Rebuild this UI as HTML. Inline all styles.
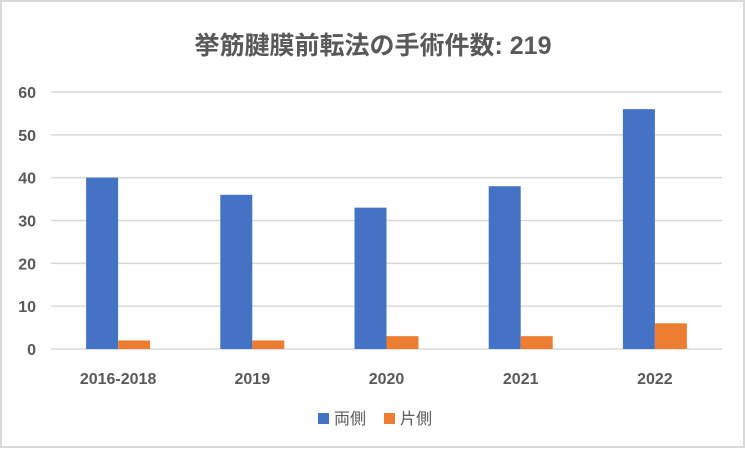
<!DOCTYPE html>
<html><head><meta charset="utf-8"><style>
body{margin:0;background:#fff;}
svg{display:block;font-family:"Liberation Sans","Noto Sans CJK JP",sans-serif;}
</style></head><body>
<svg id="c" width="746" height="450" viewBox="0 0 746 450">
<rect x="1" y="1" width="743" height="446" fill="#fff" stroke="#d9d9d9" stroke-width="2"/>
<text x="373" y="54" text-anchor="middle" font-size="25" font-weight="bold" fill="#595959">挙筋腱膜前転法の手術件数: 219</text>
<g id="grid"></g><g id="bars"></g><g id="labels"></g>
<g>
<rect x="318" y="413" width="11" height="11" fill="#4472c4"/>
<text x="334" y="424" font-size="16" fill="#595959">両側</text>
<rect x="384" y="413" width="11" height="11" fill="#ed7d31"/>
<text x="400" y="424" font-size="16" fill="#595959">片側</text>
</g>
</svg>
<script>
const categories=["2016-2018","2019","2020","2021","2022"];
const bilateral=[40,36,33,38,56];
const unilateral=[2,2,3,3,6];
const yTicks=[0,10,20,30,40,50,60];
const NS="http://www.w3.org/2000/svg";
const L=51,R=722,Y0=349,Y60=92;
const y=v=>Y0-(v/60)*(Y0-Y60);
const cw=(R-L)/categories.length;
const cx=i=>L+cw*(i+0.5);
const bw=32;
function mk(t,a,p){const e=document.createElementNS(NS,t);for(const k in a)e.setAttribute(k,a[k]);p.appendChild(e);return e;}
const g=document.getElementById('grid'),b=document.getElementById('bars'),lb=document.getElementById('labels');
yTicks.forEach(v=>{
 const l=mk('line',{x1:L,x2:R,y1:y(v),y2:y(v),stroke:'#d9d9d9','stroke-width':1.5},g);
 
 
 const t=mk('text',{x:36,y:y(v)+6,'text-anchor':'end','font-size':16,'font-weight':'bold',fill:'#595959'},lb);
 t.textContent=v;
 
 
});
categories.forEach((c,i)=>{
 const r1=mk('rect',{x:cx(i)-bw,y:y(bilateral[i]),width:bw,height:Y0-y(bilateral[i]),fill:'#4472c4'},b);
 
 
 const r2=mk('rect',{x:cx(i),y:y(unilateral[i]),width:bw,height:Y0-y(unilateral[i]),fill:'#ed7d31'},b);
 
 
 const t=mk('text',{x:cx(i),y:384,'text-anchor':'middle','font-size':16,'font-weight':'bold',fill:'#595959'},lb);
 t.textContent=c;
 
 
});
</script>
</body></html>
